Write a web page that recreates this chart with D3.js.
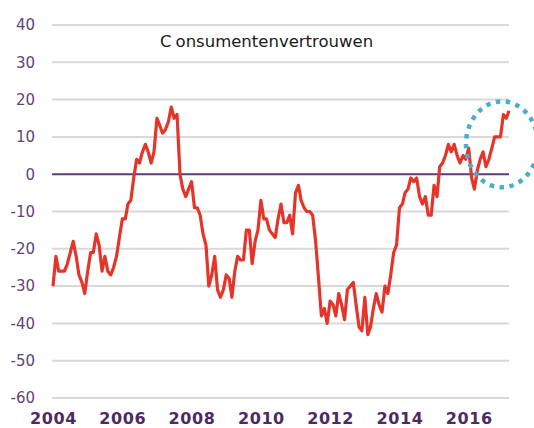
<!DOCTYPE html>
<html>
<head>
<meta charset="utf-8">
<script src="https://cdn.jsdelivr.net/npm/d3@7"></script>
<style>
  body { margin: 0; background: #fff; }
  svg { display: block; font-family: "DejaVu Sans", Verdana, sans-serif; }
</style>
</head>
<body>
<div id="chart"></div>
<script>
// dimensions
var width = 534;
var height = 428;

// monthly values, jan 2004 .. mar 2017
var v2004 = [-30, -22, -26, -26, -26, -24, -21, -18, -22, -27, -29, -32];
var v2005 = [-26, -21, -21, -16, -19, -26, -22, -26, -27, -25, -22, -17];
var v2006 = [-12, -12, -8, -7, -1, 4, 3, 6, 8, 6, 3, 6];
var v2007 = [15, 13, 11, 12, 14, 18, 15, 16, 0, -4, -6, -4];
var v2008 = [-2, -9, -9, -11, -16, -19, -30, -27, -22, -31, -33, -31];
var v2009 = [-27, -28, -33, -26, -22, -23, -23, -15, -15, -24, -18, -15];
var v2010 = [-7, -12, -12, -15, -16, -17, -12, -8, -13, -13, -11, -16];
var v2011 = [-5, -3, -7, -9, -10, -10, -11, -18, -28, -38, -36, -40];
var v2012 = [-34, -35, -38, -32, -35, -39, -31, -30, -29, -35, -41, -42];
var v2013 = [-33, -43, -41, -36, -32, -35, -37, -30, -32, -27, -21, -19];
var v2014 = [-9, -8, -5, -4, -1, -2, -1, -6, -8, -6, -11, -11];
var v2015 = [-3, -6, 2, 3, 5, 8, 6, 8, 5, 3, 5, 4];
var v2016 = [7, -1, -4, 1, 4, 6, 2, 4, 7, 10, 10, 10];
var v2017 = [16, 15, 17];

var yearTicks = [2004, 2006, 2008, 2010, 2012, 2014, 2016];
var yTicks = [40, 30, 20, 10, 0, -10, -20, -30, -40, -50, -60];
var title = "Consumentenvertrouwen";

var values = [].concat(v2004, v2005, v2006, v2007, v2008, v2009, v2010,
    v2011, v2012, v2013, v2014, v2015, v2016, v2017);
var data = values.map(function (d, i) {
    return { date: new Date(2004, i, 1), value: d };
});

var svg = d3.select("#chart")
    .append("svg")
    .attr("width", width)
    .attr("height", height);

var x = d3.scaleTime()
    .domain([new Date(2004, 0, 1), new Date(2017, 2, 1)])
    .range([53, 509]);

var y = d3.scaleLinear()
    .domain([-60, 40])
    .range([398, 25]);

// gridlines
svg.append("g")
    .selectAll("line")
    .data(yTicks.filter(function (d) { return d != 0; }))
    .enter()
    .append("line")
    .attr("x1", 52)
    .attr("x2", x.range()[1])
    .attr("y1", function (d) { return y(d); })
    .attr("y2", function (d) { return y(d); })
    .attr("stroke", "#d9d9d9")
    .attr("stroke-width", 2);

// zero line
svg.append("line")
    .attr("x1", 52)
    .attr("x2", x.range()[1])
    .attr("y1", y(0))
    .attr("y2", y(0))
    .attr("stroke", "#5e3a78")
    .attr("stroke-width", 2);

// y axis (plain hyphen for negatives, like the original)
var yAxis = svg.append("g")
    .attr("transform", "translate(52,0)")
    .call(d3.axisLeft(y)
        .tickValues(yTicks)
        .tickFormat(function (d) { return String(d); })
        .tickSize(0)
        .tickPadding(17));
yAxis.select(".domain").remove();
yAxis.selectAll("text")
    .attr("font-family", "DejaVu Sans, Verdana, sans-serif")
    .attr("font-size", "15px")
    .attr("fill", "#5f4478");

// x axis
var xAxis = svg.append("g")
    .attr("transform", "translate(0," + y(-60) + ")")
    .call(d3.axisBottom(x)
        .tickValues(yearTicks.map(function (d) { return new Date(d, 0, 1); }))
        .tickFormat(d3.timeFormat("%Y"))
        .tickSize(0)
        .tickPadding(15));
xAxis.select(".domain").remove();
xAxis.selectAll("text")
    .attr("font-family", "DejaVu Sans, Verdana, sans-serif")
    .attr("font-size", "16px")
    .attr("font-weight", 700)
    .attr("letter-spacing", "0.6px")
    .attr("fill", "#4e2a64");

// line
var line = d3.line()
    .x(function (d) { return x(d.date); })
    .y(function (d) { return y(d.value); });

svg.append("path")
    .datum(data)
    .attr("d", line)
    .attr("fill", "none")
    .attr("stroke", "#e5352b")
    .attr("stroke-width", 3.2)
    .attr("stroke-linejoin", "round");

// title
var t = svg.append("text")
    .attr("x", 160)
    .attr("y", 47)
    .attr("font-size", "16.5px")
    .attr("fill", "#1a1a1a");
t.append("tspan").text(title.slice(0, 1));
t.append("tspan").attr("dx", 4).text(title.slice(1));

// dotted circle highlight
svg.append("ellipse")
    .attr("cx", x(new Date(2016, 6, 1)) + 16)
    .attr("cy", y(8))
    .attr("rx", 36)
    .attr("ry", 43)
    .attr("fill", "none")
    .attr("stroke", "#4aaec9")
    .attr("stroke-width", 4.5)
    .attr("stroke-dasharray", "4.5 5.5");
</script>
</body>
</html>
